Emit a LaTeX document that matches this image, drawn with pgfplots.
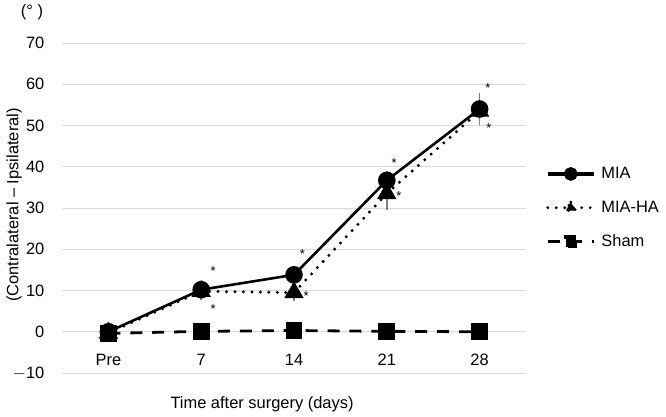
\documentclass[border=0pt]{standalone}
\usepackage{pgfplots}
\pgfplotsset{compat=1.18}
\usepackage{fontspec}
\setmainfont{Liberation Sans}
\begin{document}
\fontsize{16.5}{19}\selectfont
\begin{tikzpicture}[x=1bp,y=1bp]
\useasboundingbox (0,0) rectangle (666,416);
\begin{axis}[
  at={(62bp,43bp)}, anchor=south west,
  scale only axis, width=464bp, height=330bp,
  xmin=-0.5, xmax=4.5, ymin=-10, ymax=70,
  axis line style={draw=none},
  major tick length=0pt,
  xtick={0,1,2,3,4}, xticklabels={Pre,7,14,21,28},
  xticklabel style={anchor=center, yshift=13bp},
  ytick={-10,0,...,70},
  yticklabels={$-$10,0,10,20,30,40,50,60,70},
  yticklabel style={xshift=-12bp},
  ymajorgrids, grid style={gray!30, line width=1pt},
  /pgf/number format/assume math mode=true,
  tick label style={font=\fontsize{16.5}{19}\selectfont},
  legend style={at={(484bp,165bp)}, anchor=west, draw=none, fill=none,
    row sep=16bp, font=\fontsize{16.5}{19}\selectfont, inner sep=0pt,
    legend cell align=left, nodes={inner xsep=6bp}},
  legend image code/.code={
    \draw[#1] (0bp,0bp) -- (46bp,0bp);
    \draw[#1, only marks, mark options={scale=0.7}] plot coordinates {(23bp,0bp)};
  },
  legend image post style={line width=3.2pt},
]
\addplot[black, line width=2.6pt, mark=*, mark size=7.5bp,
  error bars/.cd, y dir=both, y explicit, error bar style={gray, line width=1.5pt}, error mark options={gray, mark size=4bp, line width=1.5pt}]
  coordinates {(0,0) +- (0,0.5) (1,10.2) +- (0,1.2) (2,13.8) +- (0,1.0) (3,36.7) +- (0,1.3) (4,54.0) +- (0,2.8)};
\addlegendentry{MIA}
\addplot[black, line width=3.3pt, dash pattern=on 0pt off 8.5pt, line cap=round, mark=triangle*, mark size=8bp, mark options={solid},
  error bars/.cd, y dir=both, y explicit, error bar style={gray, line width=1.5pt, solid}, error mark options={gray, mark size=4bp, line width=1.5pt}]
  coordinates {(0,-0.3) +- (0,0.5) (1,9.8) +- (0,1.2) (2,9.5) +- (0,1.0) (3,33.5) +- (0,3.0) (4,53.5) +- (0,1.5)};
\addlegendentry{MIA-HA}
\addplot[black, line width=2.8pt, dash pattern=on 12pt off 10pt, mark=square*, mark size=7bp, mark options={solid}]
  coordinates {(0,-0.4) (1,0.1) (2,0.3) (3,0.1) (4,0)};
\addlegendentry{Sham}
\node[font=\fontsize{13}{13}\selectfont] at (axis cs:1.13,14.7) {*};
\node[font=\fontsize{13}{13}\selectfont] at (axis cs:1.13,5.6) {*};
\node[font=\fontsize{13}{13}\selectfont] at (axis cs:2.09,18.8) {*};
\node[font=\fontsize{13}{13}\selectfont] at (axis cs:2.13,8.6) {*};
\node[font=\fontsize{13}{13}\selectfont] at (axis cs:3.08,41) {*};
\node[font=\fontsize{13}{13}\selectfont] at (axis cs:3.13,32.8) {*};
\node[font=\fontsize{13}{13}\selectfont] at (axis cs:4.09,59) {*};
\node[font=\fontsize{13}{13}\selectfont] at (axis cs:4.1,49.4) {*};
\end{axis}
\node[rotate=90] at (14,211) {(Contralateral -- Ipsilateral)};
\node at (32,404) {(\textdegree\ )};
\node at (262,12) {Time after surgery (days)};
\end{tikzpicture}
\end{document}
